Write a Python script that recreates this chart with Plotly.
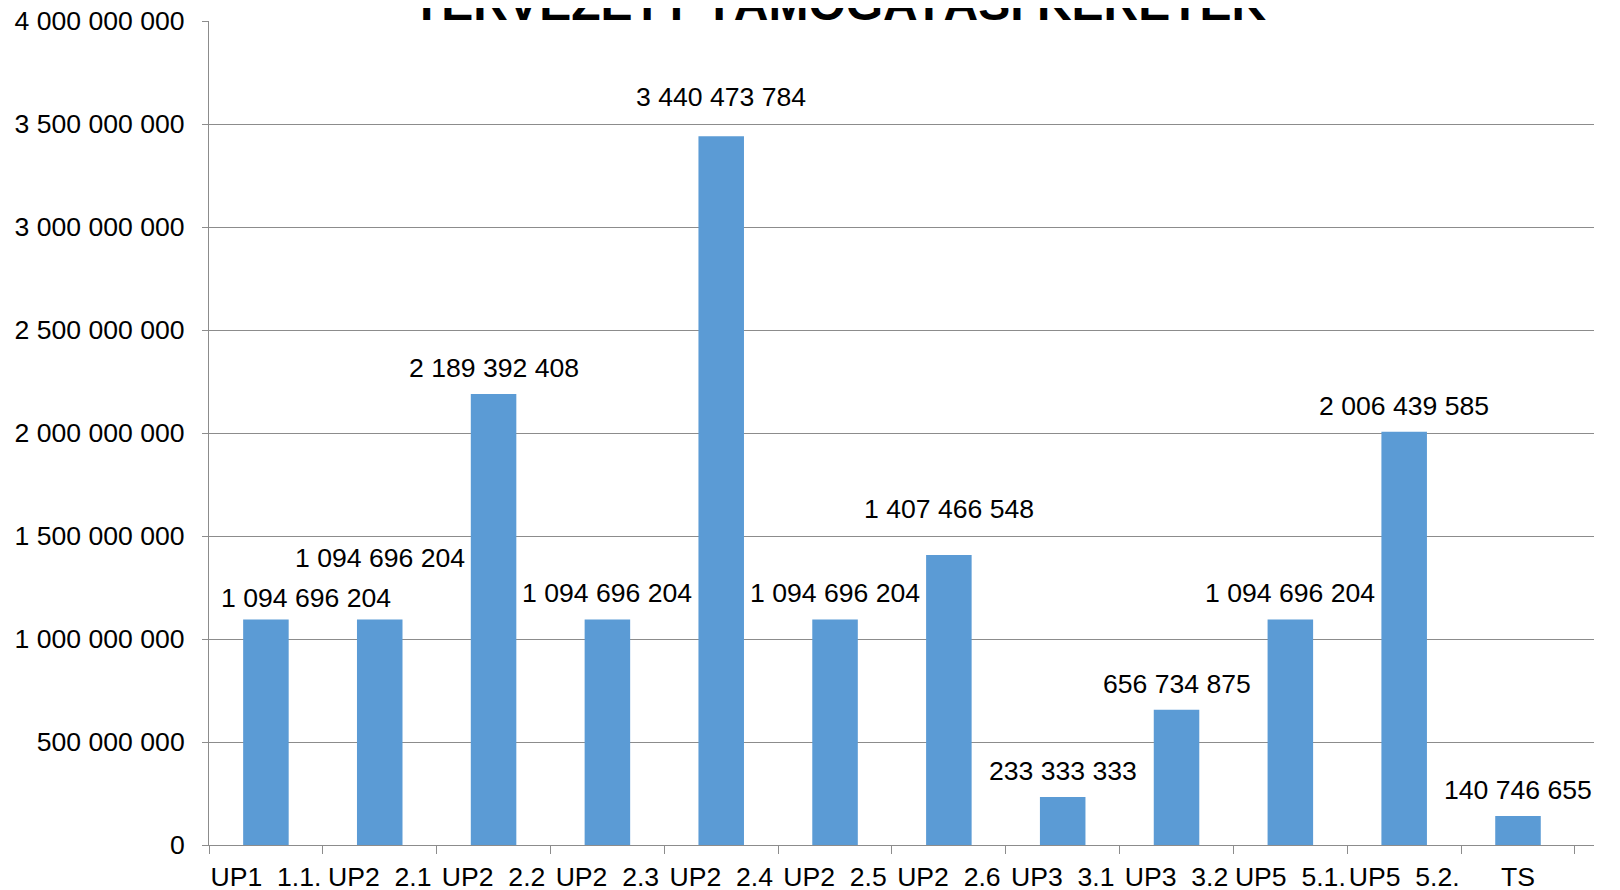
import plotly.graph_objects as go

# adatok
categories = [
    "UP1\u00a0\u00a01.1.", "UP2\u00a0\u00a02.1", "UP2\u00a0\u00a02.2", "UP2\u00a0\u00a02.3",
    "UP2\u00a0\u00a02.4", "UP2\u00a0\u00a02.5", "UP2\u00a0\u00a02.6", "UP3\u00a0\u00a03.1",
    "UP3\u00a0\u00a03.2", "UP5\u00a0\u00a05.1.", "UP5\u00a0\u00a05.2.", "TS",
]
values = [
    1094696204, 1094696204, 2189392408, 1094696204, 3440473784, 1094696204,
    1407466548, 233333333, 656734875, 1094696204, 2006439585, 140746655,
]
y_tickvals = [0, 500000000, 1000000000, 1500000000, 2000000000,
              2500000000, 3000000000, 3500000000, 4000000000]

title = "TERVEZETT TÁMOGATÁSI KERETEK"
FONT = "Liberation Sans, Arial, sans-serif"
GRID = "#8c8c8c"
FS = 26.6


def fmt(v):
    return f"{v:,}".replace(",", " ")


# kézzel elmozgatott feliratok (x, y eltolás px)
label_nudge = {0: (40, 21), 1: (0, 61), 4: (0, 39), 6: (0, 46)}

annotations = []
for i, (c, v) in enumerate(zip(categories, values)):
    dx, dy = label_nudge.get(i, (0, 26))
    annotations.append(dict(
        x=c, y=v, xref="x", yref="y", text=fmt(v), showarrow=False,
        yanchor="middle", xshift=dx, yshift=dy,
        font=dict(family=FONT, size=FS, color="black"),
    ))

annotations.append(dict(
    x=0.455, y=1, xref="paper", yref="paper", text="<b>" + title + "</b>",
    showarrow=False, xanchor="center", yanchor="bottom", yshift=-11,
    font=dict(family=FONT, size=48, color="black"),
))

# az oldal 8px-es margója miatt a méret kisebb
fig = go.Figure(
    data=[go.Bar(
        x=categories, y=values, marker_color="#5B9BD5",
        marker_line_width=0, hoverinfo="skip",
    )],
    layout=go.Layout(
        width=1612, height=882,
        paper_bgcolor="white", plot_bgcolor="white",
        margin=dict(l=201, r=26, t=13, b=45),
        bargap=0.6,
        showlegend=False,
        font=dict(family=FONT, size=FS, color="black"),
        xaxis=dict(
            type="category", showline=True, linecolor=GRID, linewidth=1,
            ticks="outside", tickson="boundaries", ticklen=8, tickcolor=GRID,
            showgrid=False, ticklabelstandoff=8, tickangle=0, automargin=False,
            ticklabeloverflow="allow",
            tickfont=dict(family=FONT, size=FS, color="black"),
        ),
        yaxis=dict(
            range=[0, 4000000000], tickvals=y_tickvals,
            ticktext=[fmt(v) for v in y_tickvals],
            showline=True, linecolor=GRID, linewidth=1,
            ticks="outside", ticklen=6, tickcolor=GRID,
            showgrid=True, gridcolor=GRID, gridwidth=1,
            zeroline=False, ticklabelstandoff=12, automargin=False,
            ticklabeloverflow="allow",
            tickfont=dict(family=FONT, size=FS, color="black"),
        ),
        annotations=annotations,
    ),
)

fig.write_html("out.html")
